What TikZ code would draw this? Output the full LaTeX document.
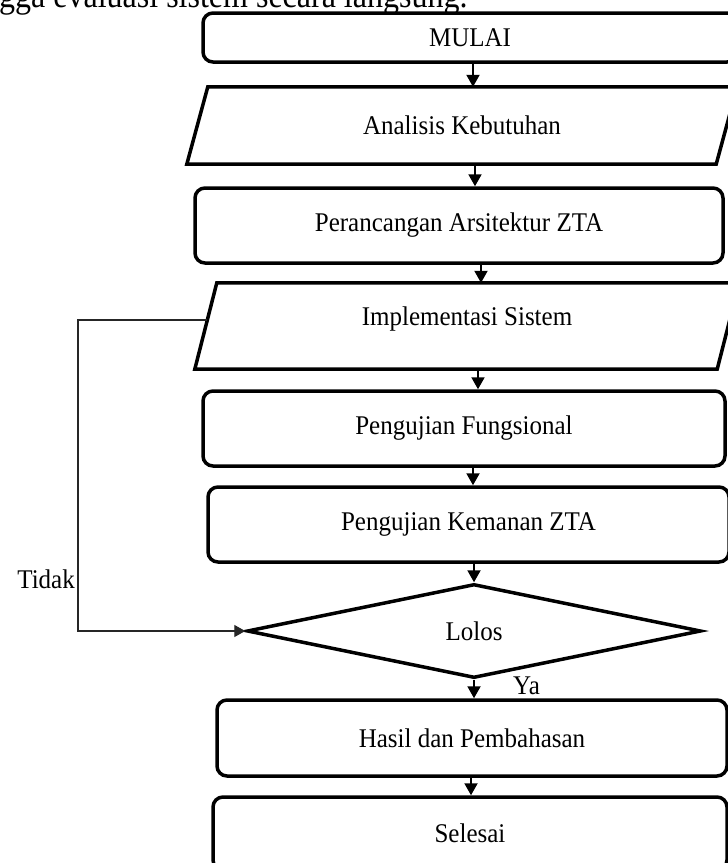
\documentclass[tikz,border=0pt]{standalone}
\usepackage{fontspec}
\usepackage{graphicx}
\setmainfont{Liberation Serif}
\usetikzlibrary{arrows.meta,shapes.geometric,calc}
\newcommand{\stx}[1]{\scalebox{1}[1.08]{#1}}
\tikzset{
  lbl/.style={font=\fontsize{25}{28}\selectfont, inner sep=0pt},
  rbox/.style={draw, line width=3.5pt, rounded corners=10pt, inner sep=0pt, font=\fontsize{25}{28}\selectfont},
  pbox/.style={inner sep=0pt, font=\fontsize{25}{28}\selectfont},
  pline/.style={line width=3.5pt, line join=miter},
  dbox/.style={diamond, draw, line width=3.5pt, inner sep=0pt, font=\fontsize{25}{28}\selectfont},
  arr/.style={-{Triangle[length=12pt,width=13pt]}, line width=2pt},
  fb/.style={-{Triangle[length=11pt,width=12pt]}, line width=1.4pt, draw=black!85},
}
\begin{document}
\begin{tikzpicture}[x=1pt,y=-1pt]
\useasboundingbox (0,0) rectangle (728,863);
\clip (0,0) rectangle (728,863);
\fill[white] (0,0) rectangle (728,863);

% cut-off line of running text
\node[anchor=base west, inner sep=0pt, font=\fontsize{32}{36}\selectfont] (toptext) at (-1,7) {\scalebox{1}[1.12]{gga evaluasi sistem secara langsung.}};

% boxes
\node[rbox, minimum width=534pt, minimum height=49pt] (mulai) at (470,37.5) {\stx{MULAI}};

\node[pbox, minimum width=550pt, minimum height=77pt] (analisis) at (462,125.5) {\stx{Analisis Kebutuhan}};
\draw[pline] (analisis.south west) -- ([xshift=21pt]analisis.north west) -- (analisis.north east) -- ([xshift=-21pt]analisis.south east) -- cycle;

\node[rbox, minimum width=528pt, minimum height=75pt] (peranc) at (459,225.5) {\stx{Perancangan Arsitektur ZTA}};

\node[pbox, minimum width=544pt, minimum height=86pt] (impl) at (467,326) {};
\draw[pline] (impl.south west) -- ([xshift=22pt]impl.north west) -- (impl.north east) -- ([xshift=-22pt]impl.south east) -- cycle;
\node[lbl] (impltext) at ([yshift=7pt]impl.center) {\stx{Implementasi Sistem}};

\node[rbox, minimum width=522pt, minimum height=75pt] (pf) at (464,428.5) {\stx{Pengujian Fungsional}};
\node[rbox, minimum width=521pt, minimum height=75pt] (pk) at (468.5,524.5) {\stx{Pengujian Kemanan ZTA}};

\node[dbox, minimum width=454pt, minimum height=94pt] (lolos) at (474,631) {\stx{Lolos}};

\node[rbox, minimum width=510pt, minimum height=76pt] (hasil) at (472,738) {\stx{Hasil dan Pembahasan}};
\node[rbox, minimum width=514pt, minimum height=73pt] (selesai) at (470,833.5) {\stx{Selesai}};

% connectors
\draw[arr] ([xshift=3pt]mulai.south) -- ([xshift=11pt]analisis.north);
\draw[arr] ([xshift=13pt]analisis.south) -- ([xshift=16pt]peranc.north);
\draw[arr] ([xshift=22pt]peranc.south) -- ([xshift=14pt]impl.north);
\draw[arr] ([xshift=11pt]impl.south) -- ([xshift=14pt]pf.north);
\draw[arr] ([xshift=9pt]pf.south) -- ([xshift=4.5pt]pk.north);
\draw[arr] ([xshift=5.5pt]pk.south) -- (lolos.north);
\draw[arr] (lolos.south) -- ([xshift=2pt]hasil.north);
\draw[arr] ([xshift=-1pt]hasil.south) -- ([xshift=1pt]selesai.north);

% feedback loop
\coordinate (fbstart) at ($(impl.south west)!0.57!([xshift=22pt]impl.north west)$);
\coordinate (fbx) at (78,0);
\draw[fb] (fbstart) -- (fbstart -| fbx) |- (lolos.west);

% labels
\node[lbl, anchor=east] (tidak) at (75,579) {\stx{Tidak}};
\node[lbl, anchor=west] (ya) at (513,686) {\stx{Ya}};
\end{tikzpicture}
\end{document}
